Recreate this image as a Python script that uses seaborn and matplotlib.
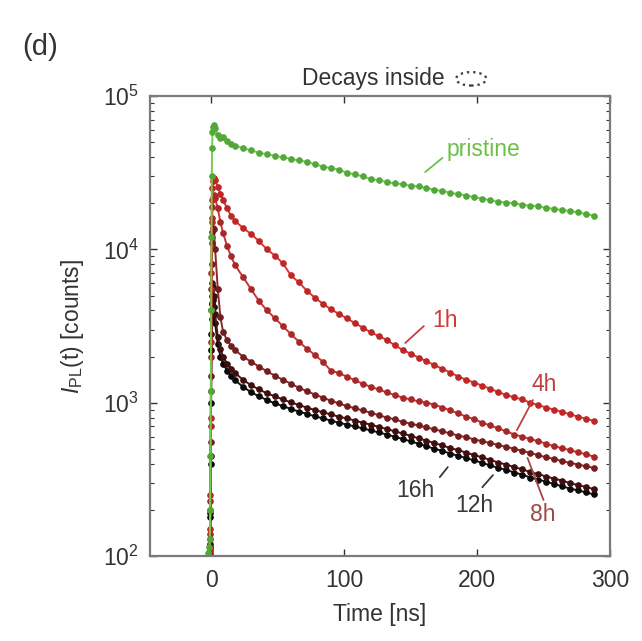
import pandas as pd
from matplotlib import pyplot as plt
from matplotlib.patches import Ellipse
import seaborn as sns

# ---------------- DATA --------------------------------------------------
time_ns = [-2, -1.5, -1, -0.75, -0.5, -0.25, 0, 0.25, 0.5, 0.75, 1, 1.5, 2, 3,
           5, 7, 9, 12, 15, 18,
           24, 30, 36, 42, 48, 54, 60, 66, 72, 78, 84, 90, 96, 102, 108,
           114, 120, 126, 132, 138, 144, 150, 156, 162, 168, 174, 180, 186,
           192, 198, 204, 210, 216, 222, 228, 234, 240, 246, 252, 258, 264,
           270, 276, 282, 288]

pristine = [105, 115, 130, 200, 450, 1200, 4000, 12000, 30000, 46000, 58000, 63000, 65000, 62000,
            56000, 53000, 54000, 51000, 49000, 47500,
            45700, 44200, 42700, 41700, 40700, 39800, 38900, 38000, 37200, 35900, 34700, 33900, 33100, 31600, 30900,
            29900, 28800, 28200, 27500, 26900, 26600, 26000, 25700, 25100, 24500, 24000, 23400, 22900,
            22400, 21900, 21400, 20900, 20400, 20200, 20000, 19500, 19300, 19100, 18600, 18400, 18000,
            17800, 17400, 17000, 16600]

h1 = [90, 95, 110, 150, 250, 800, 2500, 7000, 15000, 21000, 25000, 28000, 29000, 28500,
      25500, 23000, 21000, 18500, 16500, 15300,
      13800, 12600, 11300, 10000, 9100, 8100, 6760, 6100, 5370, 4840, 4420, 4070, 3800, 3550, 3310,
      3090, 2880, 2720, 2570, 2370, 2210, 2090, 1970, 1860, 1760, 1660, 1570, 1480,
      1410, 1350, 1290, 1230, 1175, 1120, 1085, 1050, 1000, 965, 930, 900, 870,
      840, 810, 785, 760]

h4 = [90, 95, 110, 140, 230, 700, 2000, 5500, 12000, 16000, 19000, 21500, 22500, 21500,
      18500, 15000, 12800, 10500, 9000, 7900,
      6600, 5500, 4600, 4000, 3550, 3150, 2800, 2500, 2250, 2050, 1850, 1620, 1560, 1480, 1400,
      1330, 1270, 1220, 1170, 1120, 1080, 1050, 1020, 1000, 970, 930, 890, 850,
      810, 780, 740, 710, 680, 650, 620, 600, 580, 560, 540, 520, 505,
      490, 475, 460, 445]

h8 = [90, 95, 105, 130, 200, 550, 1500, 4000, 8000, 11000, 13000, 13800, 13500, 10000,
      5500, 3600, 2900, 2550, 2350, 2200,
      2000, 1850, 1720, 1600, 1500, 1410, 1330, 1250, 1190, 1130, 1080, 1030, 990, 950, 920,
      890, 860, 830, 800, 780, 750, 730, 710, 690, 670, 650, 630, 610,
      595, 575, 560, 545, 530, 515, 500, 485, 470, 455, 440, 430, 415,
      405, 395, 385, 375]

h12 = [90, 92, 100, 120, 190, 450, 1200, 2800, 4500, 5500, 6000, 5700, 5000, 3800,
       2700, 2250, 2000, 1800, 1670, 1560,
       1410, 1300, 1220, 1150, 1100, 1050, 1005, 965, 930, 895, 865, 840, 810, 790, 765,
       740, 720, 695, 675, 650, 630, 608, 585, 565, 545, 527, 505, 490,
       472, 455, 440, 423, 407, 395, 380, 368, 353, 342, 330, 320, 310,
       299, 290, 282, 273]

h16 = [90, 92, 100, 115, 180, 400, 1000, 2200, 3500, 4400, 5000, 4700, 4200, 3300,
       2400, 2000, 1800, 1620, 1500, 1400,
       1270, 1170, 1100, 1040, 990, 950, 910, 875, 845, 815, 790, 765, 740, 720, 700,
       680, 660, 640, 620, 600, 580, 560, 540, 520, 500, 485, 465, 450,
       435, 420, 405, 390, 375, 365, 350, 340, 325, 315, 305, 295, 285,
       275, 268, 260, 252]

series_names = ['16h', '12h', '8h', '4h', '1h', 'pristine']
series_vals = [h16, h12, h8, h4, h1, pristine]
line_colors = {'16h': '#151515', '12h': '#4e1515', '8h': '#8e2828',
               '4h': '#c73535', '1h': '#e03434', 'pristine': '#74cc4c'}
dot_colors = {'16h': '#0a0a0a', '12h': '#3f0f0f', '8h': '#731e1e',
              '4h': '#a82828', '1h': '#bd2727', 'pristine': '#52a93a'}

# label text (t, counts), leader line ends, colour
labels = [
    ('pristine', (177, 44500), [(161, 31900), (174, 39500)], '#6cc048'),
    ('1h', (166, 3460), [(146, 2450), (160, 3160)], '#d23a3a'),
    ('4h', (241, 1320), [(230, 662), (242, 1040)], '#c04040'),
    ('8h', (240, 187), [(238, 436), (250, 232)], '#a04848'),
    ('12h', (183.5, 215), [(204, 281), (212, 337)], '#383838'),
    ('16h', (139, 269), [(172, 327), (178, 380)], '#383838'),
]

# ---------------- FIGURE -------------------------------------------------
sns.set_style("ticks")
plt.rcParams['font.family'] = ['Liberation Sans', 'DejaVu Sans']
plt.rcParams['mathtext.fontset'] = 'custom'
plt.rcParams['mathtext.rm'] = 'Liberation Sans'
plt.rcParams['mathtext.it'] = 'Liberation Sans:italic'

fig = plt.figure(figsize=(6.42, 6.41), dpi=100)
ax = fig.add_axes([0.2336, 0.1326, 0.7165, 0.7176])

for name, vals in zip(series_names, series_vals):
    df = pd.DataFrame({'t': time_ns, 'counts': vals})
    sns.lineplot(x='t', y='counts', data=df, ax=ax, color=line_colors[name],
                 linewidth=1.4, marker='o', markersize=4.0,
                 markerfacecolor=dot_colors[name], markeredgecolor=dot_colors[name],
                 estimator=None)

ax.set_yscale('log')
ax.set_xlim(-46, 300)
ax.set_ylim(1e2, 1e5)
ax.set_xticks([0, 100, 200, 300])
ax.tick_params(axis='both', which='both', direction='in', top=True, right=True,
               labelsize=16.5, colors='#333333')
ax.tick_params(axis='y', which='major', length=5, width=1, pad=8)
ax.tick_params(axis='x', which='major', length=5, width=1, pad=9)
ax.tick_params(axis='y', which='minor', length=3, width=0.8)
ax.tick_params(axis='x', which='minor', length=0)
for sp in ax.spines.values():
    sp.set_color('#7a7a7a')
    sp.set_linewidth(1.6)

ax.set_xlabel('Time [ns]', fontsize=16.5, color='#333333', labelpad=8)
ax.set_ylabel(r'$I_{\rm PL}$(t) [counts]', fontsize=16.5, color='#333333', labelpad=12)

for txt, pos, seg, col in labels:
    ax.text(pos[0], pos[1], txt, fontsize=16.5, color=col, ha='left', va='center')
    ax.plot([seg[0][0], seg[1][0]], [seg[0][1], seg[1][1]], color=col, lw=1.3)

fig.text(0.034, 0.927, '(d)', fontsize=21, color='#333333', ha='left', va='center')
fig.text(0.582, 0.877, 'Decays inside', fontsize=16.5, color='#333333', ha='center', va='center')
fig.patches.append(Ellipse((0.734, 0.877), 0.047, 0.021, transform=fig.transFigure,
                           fill=False, linestyle=':', linewidth=1.7, edgecolor='#444444'))

plt.savefig('out.png', dpi=100)
